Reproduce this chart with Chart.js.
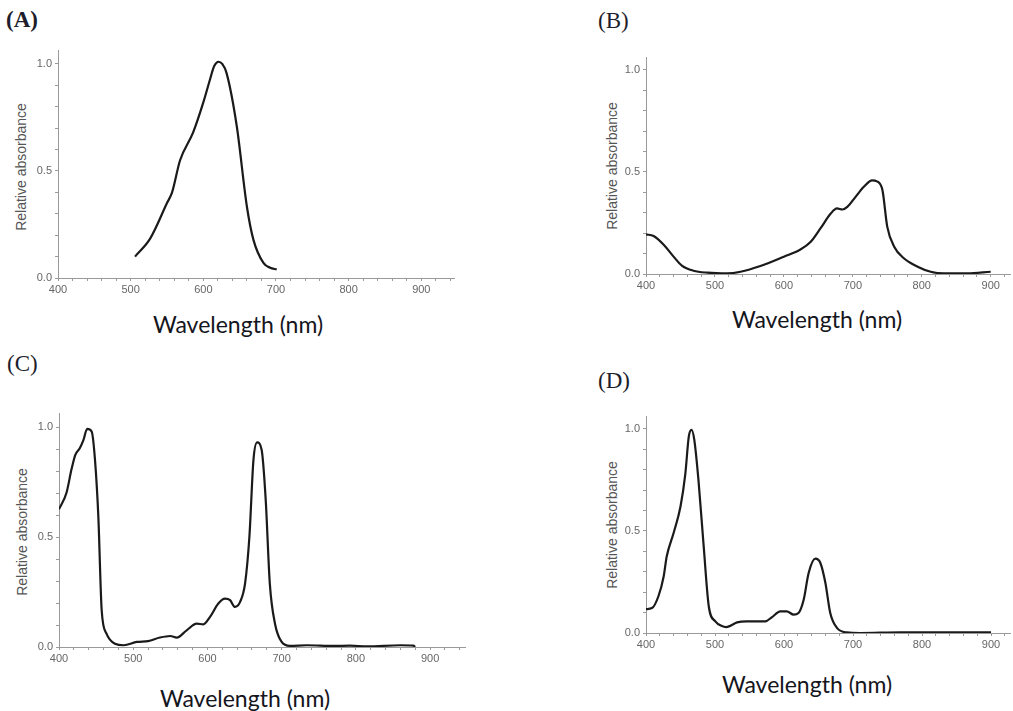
<!DOCTYPE html>
<html lang="en">

<head>
  <meta charset="UTF-8" />
  <title>Relative absorbance spectra</title>
  <script src="https://cdn.jsdelivr.net/npm/chart.js"></script>
  <style>
    body { margin: 0; width: 1013px; height: 711px; background: #fff; overflow: hidden; position: relative; }
    canvas { position: absolute; }
    .tag { position: absolute; font-family: "Liberation Serif", "Times New Roman", serif; font-size: 23px; line-height: 23px; color: #1d1d2b; }
    .xt { position: absolute; font-family: Lato, "Open Sans", sans-serif; font-size: 23px; line-height: 23px; color: #151520; white-space: nowrap; transform: translateX(-50%); }
    .yt { position: absolute; font-family: "Liberation Sans", Arial, sans-serif; font-size: 14px; line-height: 14px; color: #555; white-space: nowrap; transform: translate(-50%, -50%) rotate(-90deg); }
  </style>
</head>

<body>
  <div class="tag" style="left: 6px; top: 8px; font-weight: bold;">(A)</div>
  <div class="tag" style="left: 598px; top: 9px;">(B)</div>
  <div class="tag" style="left: 7px; top: 352px;">(C)</div>
  <div class="tag" style="left: 598px; top: 369px;">(D)</div>

  <div class="yt" style="left: 21px; top: 167px;">Relative absorbance</div>
  <div class="yt" style="left: 612px; top: 166px;">Relative absorbance</div>
  <div class="yt" style="left: 22px; top: 532px;">Relative absorbance</div>
  <div class="yt" style="left: 612px; top: 525px;">Relative absorbance</div>

  <div class="xt" style="left: 238px; top: 313px;">Wavelength (nm)</div>
  <div class="xt" style="left: 817px; top: 308px;">Wavelength (nm)</div>
  <div class="xt" style="left: 245px; top: 687px;">Wavelength (nm)</div>
  <div class="xt" style="left: 807px; top: 673px;">Wavelength (nm)</div>

  <canvas id="chartA"></canvas>
  <canvas id="chartB"></canvas>
  <canvas id="chartC"></canvas>
  <canvas id="chartD"></canvas>

  <script>
    // valores (nm, absorbancia relativa)
    const wlA = [506, 527, 550, 557, 568, 586, 600, 609, 615, 621, 626, 632, 646, 660, 669, 683, 692, 701];
    const absA = [0.10, 0.185, 0.35, 0.40, 0.55, 0.68, 0.82, 0.925, 0.99, 1.01, 1.0, 0.957, 0.71, 0.333, 0.178, 0.069, 0.048, 0.04];

    const wlB = [400, 411, 426, 440, 452, 469, 489, 518, 537, 566, 600, 624, 639, 653, 668, 677, 685, 692, 704, 716, 728, 735, 743, 750, 760, 774, 794, 813, 832, 866, 900];
    const absB = [0.194, 0.186, 0.142, 0.085, 0.041, 0.016, 0.0065, 0.003, 0.011, 0.039, 0.085, 0.12, 0.158, 0.223, 0.296, 0.321, 0.316, 0.329, 0.378, 0.427, 0.459, 0.454, 0.41, 0.231, 0.134, 0.077, 0.036, 0.011, 0.003, 0.003, 0.011];

    const wlC = [400, 410, 417, 422, 428, 433, 438, 444, 448.5, 453, 457.5, 464, 475.5, 487, 505, 520, 536, 550, 558.6, 572, 585.5, 594.5, 603.5, 614.7, 623.7, 630.5, 637, 644, 650.7, 656.5, 662, 667, 673, 678.5, 684, 691, 700, 711, 734, 770, 792, 815, 860, 877.5, 880];
    const absC = [0.626, 0.70, 0.81, 0.874, 0.904, 0.942, 0.992, 0.98, 0.851, 0.593, 0.167, 0.061, 0.015, 0.008, 0.023, 0.027, 0.043, 0.05, 0.043, 0.076, 0.106, 0.103, 0.137, 0.198, 0.22, 0.213, 0.182, 0.205, 0.289, 0.50, 0.851, 0.93, 0.897, 0.669, 0.289, 0.106, 0.023, 0.005, 0.008, 0.005, 0.006, 0.003, 0.008, 0.006, 0.0];

    const wlD = [400, 408.7, 418, 425.6, 430, 440, 450, 457, 462, 466, 470, 476, 483.6, 491, 500.5, 510, 516, 522, 532, 546, 561, 573, 582.6, 594.7, 604, 614, 621, 628.5, 635.7, 645.4, 652.7, 660, 667, 677, 691, 710.6, 768.6, 900];
    const absD = [0.117, 0.122, 0.18, 0.277, 0.375, 0.49, 0.62, 0.78, 0.962, 0.995, 0.946, 0.75, 0.424, 0.13, 0.057, 0.034, 0.029, 0.035, 0.052, 0.057, 0.057, 0.057, 0.078, 0.106, 0.106, 0.09, 0.098, 0.163, 0.294, 0.364, 0.343, 0.245, 0.098, 0.024, 0.003, 0.0, 0.003, 0.003];

    const yTicks = [0.0, 0.5, 1.0];
    const xTicks = [400, 500, 600, 700, 800, 900];

    // posicao da area do grafico em cada painel
    const paineis = [
      { id: 'chartA', wl: wlA, ab: absA, left: 58, right: 454, top: 50, bottom: 278, xMax: 945, yMax: 1.065 },
      { id: 'chartB', wl: wlB, ab: absB, left: 646, right: 1010, top: 57, bottom: 274, xMax: 928, yMax: 1.063 },
      { id: 'chartC', wl: wlC, ab: absC, left: 59, right: 465, top: 413, bottom: 647, xMax: 947, yMax: 1.064 },
      { id: 'chartD', wl: wlD, ab: absD, left: 646, right: 1010, top: 416, bottom: 633, xMax: 927.5, yMax: 1.063 }
    ];

    const yW = 40, xH = 24, padTop = 12, padRight = 2;
    const eixo = '#9a9a9a';
    const fonteTick = { family: '"Liberation Sans", Arial, sans-serif', size: 11 };

    for (let i = 0; i < paineis.length; i++) {
      const p = paineis[i];
      const canvas = document.getElementById(p.id);
      const w = (p.right - p.left) + yW + padRight;
      const h = (p.bottom - p.top) + padTop + xH;
      canvas.style.left = (p.left - yW) + 'px';
      canvas.style.top = (p.top - padTop) + 'px';
      canvas.style.width = w + 'px';
      canvas.style.height = h + 'px';
      canvas.width = w;
      canvas.height = h;

      new Chart(canvas.getContext('2d'), {
        type: 'line',
        data: {
          datasets: [{
            data: p.wl.map((x, j) => ({ x: x, y: p.ab[j] })),
            borderColor: '#1a1a1a',
            borderWidth: 2.2,
            pointRadius: 0,
            fill: false,
            cubicInterpolationMode: 'monotone'
          }]
        },
        options: {
          responsive: false,
          animation: false,
          layout: { padding: { top: padTop, right: padRight, left: 0, bottom: 0 } },
          plugins: { legend: { display: false }, tooltip: { enabled: false } },
          scales: {
            x: {
              type: 'linear',
              min: 400,
              max: p.xMax,
              afterFit: (s) => { s.height = xH; },
              border: { display: true, color: eixo, width: 1 },
              grid: { drawOnChartArea: false, drawTicks: true, tickLength: 3, color: eixo },
              ticks: {
                stepSize: 20,
                autoSkip: false,
                maxRotation: 0,
                includeBounds: false,
                padding: 2,
                color: '#666',
                font: fonteTick,
                callback: (v) => (xTicks.includes(v) ? String(v) : '')
              }
            },
            y: {
              min: 0,
              max: p.yMax,
              afterFit: (s) => { s.width = yW; },
              border: { display: true, color: eixo, width: 1 },
              grid: { drawOnChartArea: false, drawTicks: true, tickLength: 3, color: eixo },
              ticks: {
                stepSize: 0.1,
                autoSkip: false,
                includeBounds: false,
                padding: 3,
                color: '#666',
                font: fonteTick,
                callback: (v) => {
                  const t = yTicks.find((k) => Math.abs(k - v) < 1e-6);
                  return t === undefined ? '' : t.toFixed(1);
                }
              }
            }
          }
        }
      });
    }
  </script>
</body>

</html>
